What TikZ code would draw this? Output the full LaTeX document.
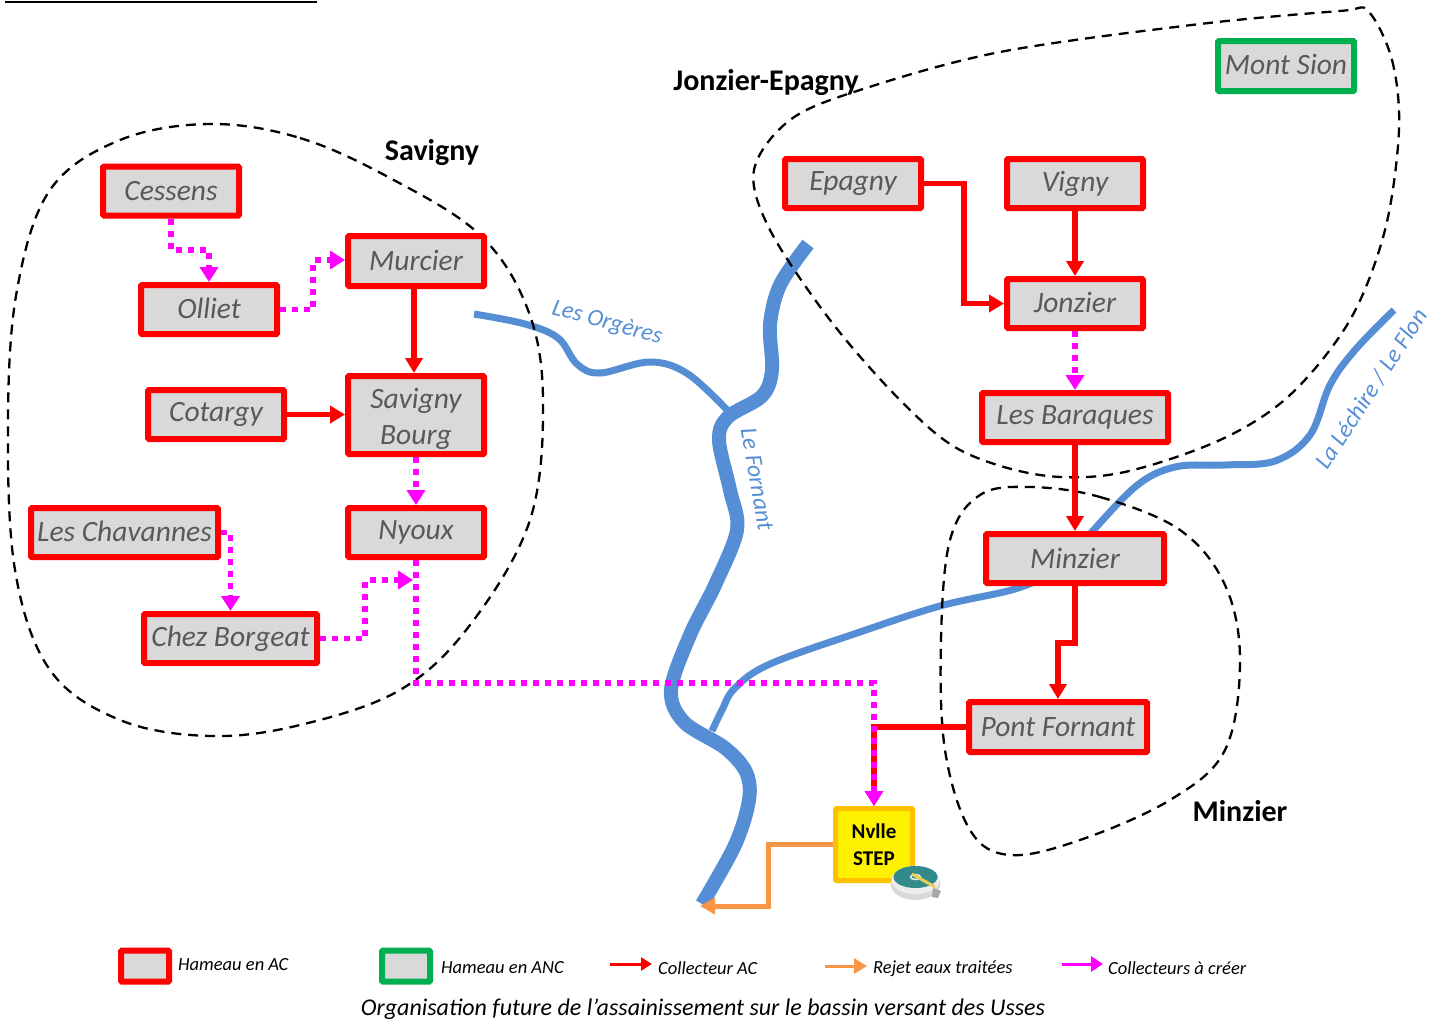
\documentclass[tikz,border=0pt]{standalone}
\usepackage{fontspec}
\setmainfont{Carlito}
\usetikzlibrary{arrows.meta,calc}
\definecolor{boxred}{HTML}{FF0000}
\definecolor{boxgreen}{HTML}{00B050}
\definecolor{boxgrey}{HTML}{D9D9D9}
\definecolor{txtgrey}{HTML}{595959}
\definecolor{river}{HTML}{558ED5}
\definecolor{mag}{HTML}{FF00FF}
\definecolor{rejet}{HTML}{F79646}
\definecolor{stepgold}{HTML}{FFC000}
\tikzset{
  hameau/.style={draw=boxred,line width=6pt,fill=boxgrey,rounded corners=1pt,inner sep=0pt,
    text=txtgrey,align=center,font=\fontsize{29.5}{36}\selectfont\itshape},
  anc/.style={hameau,draw=boxgreen},
  ac/.style={draw=boxred,line width=5.5pt,-{Triangle[length=15pt,width=17pt]}},
  projet/.style={draw=mag,line width=5.5pt,dash pattern=on 6pt off 6pt,-{Triangle[length=15pt,width=18pt]}},
  rej/.style={draw=rejet,line width=5pt,-{Triangle[length=15pt,width=16pt]}},
  limite/.style={draw=black,line width=2.3pt,dash pattern=on 10pt off 7pt},
  riv/.style={draw=river,line cap=butt,line join=round},
  commune/.style={font=\fontsize{30}{34}\selectfont\bfseries,text=black},
  rivlab/.style={font=\fontsize{24}{28}\selectfont\itshape,text=river},
  leg/.style={font=\fontsize{18.5}{22}\selectfont\itshape,text=black,anchor=west,inner sep=0pt},
}
\begin{document}
\begin{tikzpicture}[x=1pt,y=-1pt]
\useasboundingbox (0,0) rectangle (1438,1021);
\draw[black,line width=2pt] (5,2) -- (317,2);
% rivers
\draw[riv,line width=7pt] plot[smooth,tension=0.6] coordinates {(474,314) (525,324) (558,338) (577,364) (600,373) (650,362) (688,374) (730,413)};
\draw[riv,line width=7pt] plot[smooth,tension=0.6] coordinates {(1394,310) (1355,350) (1330,385) (1310,435) (1275,461) (1225,465) (1175,467) (1135,487) (1085,540)};
\draw[riv,line width=7pt] plot[smooth,tension=0.6] coordinates {(1060,570) (1015,589) (940,606) (860,632) (770,664) (735,688) (722,710) (712,731)};
\draw[riv,line width=14pt] plot[smooth,tension=0.55] coordinates {(808,244) (780,285) (770,325) (772,370) (762,396) (728,417) (719,440) (730,490) (737,530) (715,585) (690,635) (671,690) (684,722) (725,748) (746,772) (749,800) (735,845) (702,904)};
% limits
\draw[limite] plot[smooth cycle,tension=0.6] coordinates {(210,124) (300,138) (390,178) (480,235) (528,310) (543,400) (530,520) (470,625) (400,690) (300,725) (210,736) (120,720) (50,670) (15,570) (8,420) (17,290) (50,190) (120,140)};
\draw[limite] plot[smooth cycle,tension=0.55] coordinates {(1368,11) (1392,60) (1399,130) (1385,230) (1350,320) (1290,395) (1220,440) (1120,473) (1040,475) (960,450) (900,400) (830,320) (770,230) (754,170) (790,120) (860,90) (1000,52) (1200,24) (1340,11)};
\draw[limite] plot[smooth cycle,tension=0.6] coordinates {(1030,487) (1100,497) (1180,530) (1225,585) (1240,660) (1225,750) (1170,800) (1080,840) (1010,855) (970,830) (945,750) (941,640) (950,540) (980,495)};
% nodes
\node[hameau,minimum width=136pt,minimum height=49pt] (cessens) at (171,191) {\raisebox{1pt}{Cessens}};
\node[hameau,minimum width=136pt,minimum height=49pt] (olliet) at (209,309.5) {\raisebox{2pt}{Olliet}};
\node[hameau,minimum width=136pt,minimum height=50pt] (murcier) at (416,261) {\raisebox{2pt}{Murcier}};
\node[hameau,minimum width=136pt,minimum height=78pt] (bourg) at (416,415) {\rule{0pt}{29pt}Savigny\\Bourg};
\node[hameau,minimum width=136pt,minimum height=49pt] (cotargy) at (216,414.5) {Cotargy};
\node[hameau,minimum width=187pt,minimum height=49pt] (chavannes) at (124.5,532.5) {\raisebox{2pt}{Les Chavannes}};
\node[hameau,minimum width=136pt,minimum height=49pt] (nyoux) at (416,532.5) {\raisebox{-1pt}{Nyoux}};
\node[hameau,minimum width=173pt,minimum height=49pt] (borgeat) at (230.5,638.5) {Chez Borgeat};
\node[hameau,minimum width=136pt,minimum height=49pt] (epagny) at (853,183.5) {\raisebox{-1pt}{Epagny}};
\node[hameau,minimum width=136pt,minimum height=49pt] (vigny) at (1075,183.5) {\raisebox{-1pt}{Vigny}};
\node[hameau,minimum width=136pt,minimum height=49pt] (jonzier) at (1075,303.5) {\raisebox{2pt}{Jonzier}};
\node[hameau,minimum width=186pt,minimum height=49pt] (baraques) at (1075,417.5) {\raisebox{-3pt}{Les Baraques}};
\node[hameau,minimum width=178pt,minimum height=49pt] (minzier) at (1075,558.5) {Minzier};
\node[hameau,minimum width=178pt,minimum height=50pt] (pont) at (1058,727) {Pont Fornant};
\node[anc,minimum width=136pt,minimum height=50pt] (sion) at (1286,66) {\raisebox{4pt}{Mont Sion}};
\node[draw=stepgold,fill=yellow,line width=5pt,rounded corners=1pt,minimum width=77pt,minimum height=72pt,inner sep=0pt,align=center,font=\fontsize{21}{27}\selectfont\bfseries] (step) at (874,844.5) {Nvlle\\STEP};
% treatment-plant pictogram
\fill[black!15] (915.5,884) ellipse (25pt and 16pt);
\fill[black!7] (915.5,880) ellipse (24pt and 14pt);
\fill[teal!85!black!80] (915.5,877) ellipse (22pt and 11pt);
\draw[black!8,line width=1.5pt] (915.5,877) ellipse (5pt and 2.5pt);
\draw[yellow!55!brown!80,line width=3pt] (912,874) -- (935,887);
\fill[black!35] (933,888) -- (941,891) -- (938,898) -- (932,897) -- cycle;
% connectors
\coordinate (jn) at (413,580);
\coordinate (outfall) at (700,906);
\draw[ac] (vigny) -- (jonzier);
\draw[ac] (epagny.east) -- (964,183.5) |- (jonzier.west);
\draw[ac] ([xshift=-2pt]murcier.south) -- ([xshift=-2pt]bourg.north);
\draw[ac] (cotargy.east) -- (bourg.west |- cotargy.east);
\draw[ac] (baraques) -- (minzier);
\draw[ac] (minzier.south) -- (1075,643) -| (pont.north);
\draw[ac] (pont.west) -| (step.north);
\draw[projet] (cessens.south) -- (171,250) -| (olliet.north);
\draw[projet] (olliet.east) -| (313,260) -- (murcier.west |- 0,260);
\draw[projet] (bourg) -- (nyoux);
\draw[projet] (chavannes.east) -| (borgeat.north);
\draw[projet] (borgeat.east) -| (365,580) -- (jn);
\draw[projet] (nyoux.south) |- (874,683) -- (step.north);
\draw[projet] (jonzier) -- (baraques);
\draw[rej] (step.west) -| (768,906) -- (outfall);
% labels
\node[commune] (lsav) at (432,153) {Savigny};
\node[commune] (ljon) at (766,83) {Jonzier-Epagny};
\node[commune] (lmin) at (1240,811) {Minzier};
\node[rivlab,rotate=-15] (lorg) at (607,323) {Les Orgères};
\node[rivlab,rotate=-80] (lfor) at (757,479) {Le Fornant};
\node[rivlab,rotate=57] (lflon) at (1371,389) {La Léchire / Le Flon};
% legend
\node[hameau,minimum width=48pt,minimum height=31pt] (l1) at (145,966) {};
\node[anc,minimum width=48pt,minimum height=31pt] (l2) at (406,966) {};
\node[leg] (t1) at (178,965) {Hameau en AC};
\node[leg] (t2) at (441,968) {Hameau en ANC};
\coordinate (a1) at (610,964); \coordinate (b1) at (652,964);
\draw[draw=boxred,line width=3pt,-{Triangle[length=11pt,width=13pt]}] (a1) -- (b1);
\node[leg] (t3) at (658,968) {Collecteur AC};
\coordinate (a2) at (825,966); \coordinate (b2) at (867,966);
\draw[draw=rejet,line width=3pt,-{Triangle[length=13pt,width=15pt]}] (a2) -- (b2);
\node[leg] (t4) at (873,969) {Rejet eaux traitées};
\coordinate (a3) at (1062,964); \coordinate (b3) at (1103,964);
\draw[draw=mag,line width=3pt,-{Triangle[length=12pt,width=15pt]}] (a3) -- (b3);
\node[leg] (t5) at (1108,968) {Collecteurs à créer};
\node[font=\fontsize{24}{28}\selectfont\itshape,text=black,inner sep=0pt] (cap) at (703,1009) {Organisation future de l’assainissement sur le bassin versant des Usses};
\end{tikzpicture}
\end{document}
